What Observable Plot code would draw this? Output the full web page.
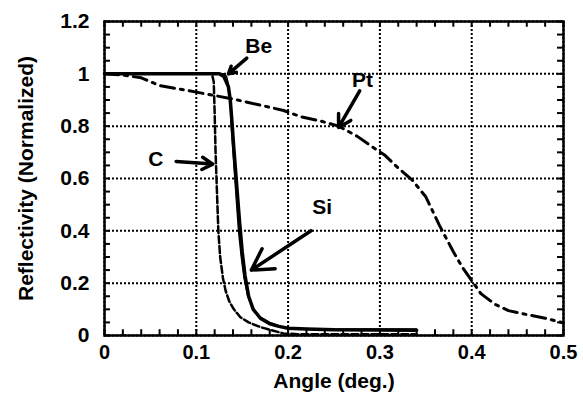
<!DOCTYPE html>
<html><head><meta charset="utf-8">
<script src="https://cdn.jsdelivr.net/npm/d3@7"></script>
<script src="https://cdn.jsdelivr.net/npm/@observablehq/plot@0.6"></script>
<style>body{margin:0;background:#fff}</style>
</head><body><div id="chart"></div>
<script>
// Pt (dash-dot)
const ptAngle = [0,0.02,0.04,0.06,0.08,0.1,0.12,0.145,0.17,0.195,0.215,0.235,0.255,0.275,0.29,0.305,0.32,0.335,0.35,0.365,0.38,0.39,0.4,0.41,0.425,0.44,0.46,0.48,0.5];
const ptRefl  = [1.0,0.995,0.985,0.955,0.943,0.93,0.917,0.9,0.88,0.86,0.835,0.82,0.8,0.762,0.725,0.69,0.64,0.595,0.53,0.42,0.32,0.26,0.21,0.16,0.12,0.095,0.08,0.066,0.048];
// Si (thick solid)
const siAngle = [0,0.125,0.13,0.135,0.137,0.139,0.141,0.143,0.145,0.147,0.15,0.153,0.157,0.162,0.17,0.18,0.19,0.2,0.22,0.25,0.34];
const siRefl  = [1,1,0.99,0.95,0.9,0.81,0.71,0.62,0.53,0.44,0.32,0.23,0.15,0.1,0.065,0.045,0.035,0.028,0.025,0.022,0.02];
// Be (thin solid)
const beAngle = [0,0.13,0.133,0.135,0.137,0.138,0.14,0.142,0.144,0.146,0.149,0.152,0.156,0.162,0.17,0.18,0.195,0.21,0.34];
const beRefl  = [1,1,0.99,0.96,0.9,0.8,0.7,0.6,0.5,0.4,0.3,0.22,0.15,0.1,0.07,0.05,0.03,0.025,0.025];
// C (dashed)
const cAngle = [0,0.117,0.119,0.12,0.121,0.122,0.123,0.124,0.126,0.129,0.132,0.136,0.141,0.148,0.157,0.17,0.184,0.195,0.21,0.34];
const cRefl  = [1,1,0.97,0.85,0.7,0.6,0.5,0.4,0.3,0.22,0.17,0.13,0.1,0.07,0.05,0.032,0.018,0.008,0.005,0.005];

// axis ticks
const xTicks = [0,0.1,0.2,0.3,0.4,0.5];
const yTicks = [0,0.2,0.4,0.6,0.8,1,1.2];
const xMinor = d3.range(0, 0.5001, 0.02);
const yMinor = d3.range(0, 1.2001, 0.05);

// annotations
const labelText = ["Be","Pt","C","Si"];
const labelX = [0.168,0.281,0.056,0.237];
const labelY = [1.105,0.975,0.675,0.49];
const arrowX1 = [0.155,0.278,0.078,0.225];
const arrowY1 = [1.06,0.935,0.665,0.40];
const arrowX2 = [0.135,0.255,0.118,0.16];
const arrowY2 = [1.0,0.795,0.655,0.25];

const mk = (a, r) => a.map((x, i) => ({x, y: r[i]}));
const pt = mk(ptAngle, ptRefl), si = mk(siAngle, siRefl), be = mk(beAngle, beRefl), c = mk(cAngle, cRefl);
const labels = labelText.map((t, i) => ({t, x: labelX[i], y: labelY[i]}));
const arrows = labelText.map((t, i) => ({x1: arrowX1[i], y1: arrowY1[i], x2: arrowX2[i], y2: arrowY2[i]}));
const fmt = d => String(+d.toFixed(2));

const chart = Plot.plot({
  width: 583, height: 398,
  marginLeft: 104, marginRight: 20, marginTop: 21, marginBottom: 63,
  style: {fontFamily: "'Liberation Sans', Arial, sans-serif", fontSize: "21px", fontWeight: "bold", color: "black", background: "white"},
  x: {domain: [0, 0.5]},
  y: {domain: [0, 1.2]},
  marks: [
    Plot.gridX(xTicks, {stroke: "black", strokeOpacity: 1, strokeWidth: 2, strokeDasharray: "2,2"}),
    Plot.gridY(yTicks, {stroke: "black", strokeOpacity: 1, strokeWidth: 2, strokeDasharray: "2,2"}),
    Plot.ruleX(xMinor, {y1: 0, y2: 0.022, stroke: "black", strokeWidth: 2}),
    Plot.ruleX(xMinor, {y1: 1.2, y2: 1.178, stroke: "black", strokeWidth: 2}),
    Plot.ruleY(yMinor, {x1: 0, x2: 0.0065, stroke: "black", strokeWidth: 2}),
    Plot.ruleY(yMinor, {x1: 0.5, x2: 0.4935, stroke: "black", strokeWidth: 2}),
    Plot.line(c, {x: "x", y: "y", stroke: "black", strokeWidth: 2.5, strokeDasharray: "7,3"}),
    Plot.line(be, {x: "x", y: "y", stroke: "black", strokeWidth: 1.5}),
    Plot.line(si, {x: "x", y: "y", stroke: "black", strokeWidth: 3.5}),
    Plot.line(pt, {x: "x", y: "y", stroke: "black", strokeWidth: 3, strokeDasharray: "14,6,3,6"}),
    Plot.arrow(arrows, {x1: "x1", y1: "y1", x2: "x2", y2: "y2", stroke: "black", strokeWidth: 3.5, headLength: 11}),
    Plot.text(labels, {x: "x", y: "y", text: "t", fontSize: 21, fontWeight: "bold", fill: "black"}),
    Plot.axisX(xTicks, {tickSize: 0, tickPadding: 9, tickFormat: fmt, fontSize: 20, label: null}),
    Plot.axisX({ticks: [], tickSize: 0, label: "Angle (deg.)", labelAnchor: "center", labelOffset: 52, labelArrow: "none", fontSize: 21}),
    Plot.axisY(yTicks, {tickSize: 0, tickPadding: 15, tickFormat: fmt, label: "Reflectivity (Normalized)", labelAnchor: "center", labelOffset: 86, labelArrow: "none", fontSize: 21}),
    Plot.frame({stroke: "black", strokeWidth: 2.5})
  ]
});
document.getElementById("chart").appendChild(chart);
</script>
</body></html>
